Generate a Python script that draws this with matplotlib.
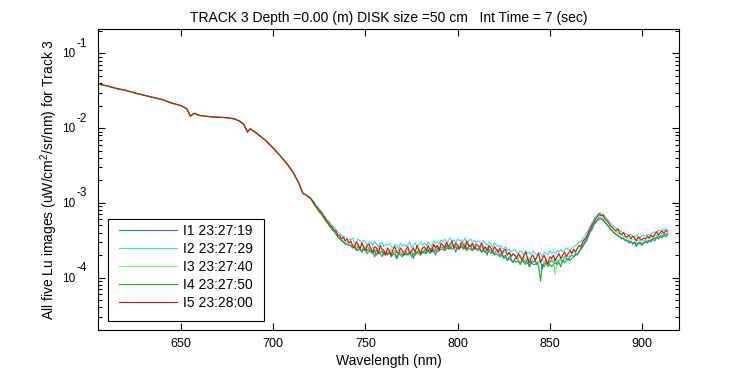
import matplotlib
matplotlib.use("Agg")
import matplotlib.pyplot as plt
from matplotlib.ticker import LogLocator, NullLocator, FixedLocator, NullFormatter
from matplotlib.transforms import blended_transform_factory, ScaledTranslation
from matplotlib.patches import Rectangle

plt.rcParams['font.family'] = ['Liberation Sans', 'DejaVu Sans']
plt.rcParams['mathtext.fontset'] = 'custom'
plt.rcParams['mathtext.rm'] = 'Liberation Sans'
plt.rcParams['mathtext.it'] = 'Liberation Sans:italic'
plt.rcParams['mathtext.bf'] = 'Liberation Sans:bold'

# ---- data (values in units of 1e-5 uW/cm^2/sr/nm) ----
SCALE = 1e-5
wl_smooth = [605, 610, 615, 620, 625, 630, 635, 640, 645, 650, 653, 655, 657, 660,
             665, 670, 675, 679, 682, 684, 686, 687.5, 690, 693, 696, 700, 704, 708,
             711, 714, 716, 718, 720]
lu_smooth = [3890, 3670, 3390, 3200, 2950, 2750, 2570, 2400, 2160, 2000, 1820, 1450, 1580, 1480,
             1430, 1400, 1380, 1330, 1230, 1120, 890, 980, 890, 780, 680, 540, 420, 320,
             250, 180, 135, 126, 117]

wl_noisy = list(range(722, 915))

lu_I1 = [99, 91, 84, 77, 73, 66, 62, 56, 52, 48,
         45, 42, 39, 36, 34, 32, 30, 29, 28, 27,
         27, 25, 26, 23, 27, 24, 22, 26, 24, 23,
         25, 22, 23, 19, 24, 22, 21, 23, 20, 22,
         21, 22, 19, 21, 23, 18, 21, 22, 20, 21,
         22, 20, 21, 23, 18, 22, 21, 24, 21, 22,
         23, 21, 24, 22, 25, 23, 20, 25, 24, 26,
         25, 23, 27, 25, 24, 28, 26, 22, 27, 25,
         27, 25, 28, 24, 26, 27, 23, 26, 25, 24,
         25, 22, 24, 23, 20, 25, 23, 22, 21, 23,
         22, 20, 21, 19, 20, 17, 19, 18, 16, 18,
         18, 17, 15, 18, 17, 16, 18, 14, 17, 16,
         17, 15, 16, 17, 13, 16, 17, 15, 16, 17,
         16, 18, 15, 17, 18, 16, 19, 18, 17, 19,
         20, 19, 21, 20, 23, 24, 26, 29, 31, 36,
         41, 44, 52, 54, 59, 60, 62, 58, 55, 51,
         48, 44, 42, 39, 38, 36, 35, 33, 34, 31,
         32, 29, 31, 28, 30, 26, 29, 30, 27, 29,
         31, 29, 32, 30, 33, 31, 35, 33, 36, 34,
         37, 35, 38]
lu_I2 = [104, 95, 88, 83, 76, 71, 66, 60, 57, 53,
         50, 47, 44, 41, 39, 37, 35, 35, 33, 33,
         32, 34, 30, 29, 33, 31, 28, 32, 30, 27,
         30, 29, 27, 31, 28, 26, 29, 30, 26, 28,
         27, 29, 26, 25, 28, 27, 24, 29, 26, 28,
         26, 28, 30, 25, 27, 29, 26, 28, 30, 27,
         29, 27, 30, 28, 26, 31, 29, 30, 28, 32,
         30, 33, 29, 31, 34, 30, 32, 29, 33, 31,
         32, 30, 34, 29, 31, 33, 30, 32, 29, 31,
         30, 28, 31, 29, 27, 30, 28, 26, 29, 27,
         26, 27, 25, 24, 26, 23, 24, 22, 23, 24,
         22, 21, 23, 22, 20, 23, 21, 22, 20, 23,
         21, 20, 22, 21, 19, 22, 21, 20, 23, 21,
         22, 21, 23, 22, 24, 22, 23, 25, 24, 23,
         25, 26, 27, 28, 30, 31, 34, 36, 40, 44,
         49, 55, 61, 66, 70, 74, 72, 70, 66, 62,
         57, 54, 50, 48, 46, 44, 43, 41, 40, 39,
         38, 37, 38, 36, 35, 37, 36, 34, 36, 37,
         36, 38, 37, 39, 40, 41, 40, 43, 42, 44,
         43, 45, 44]
lu_I3 = [98, 90, 83, 78, 72, 66, 62, 57, 53, 49,
         46, 43, 40, 37, 35, 33, 32, 31, 30, 29,
         29, 27, 28, 26, 27, 25, 27, 26, 24, 26,
         25, 24, 26, 23, 24, 25, 22, 24, 23, 22,
         23, 22, 24, 21, 23, 22, 24, 21, 22, 23,
         22, 24, 23, 21, 24, 23, 22, 24, 23, 25,
         24, 23, 25, 24, 26, 24, 25, 27, 25, 26,
         27, 26, 28, 27, 26, 28, 27, 29, 26, 28,
         28, 26, 29, 27, 28, 26, 27, 28, 26, 27,
         26, 25, 27, 24, 25, 26, 23, 25, 24, 23,
         24, 22, 23, 21, 22, 20, 21, 19, 20, 20,
         19, 18, 20, 18, 19, 17, 19, 18, 17, 18,
         18, 17, 16, 18, 17, 16, 18, 15, 17, 18,
         17, 11, 17, 18, 17, 19, 18, 20, 19, 20,
         21, 22, 22, 24, 25, 27, 29, 32, 35, 40,
         44, 50, 56, 62, 65, 70, 67, 65, 60, 57,
         52, 49, 46, 44, 41, 40, 38, 37, 36, 35,
         34, 33, 33, 32, 33, 31, 32, 31, 32, 31,
         32, 34, 33, 35, 35, 37, 36, 38, 38, 39,
         39, 38, 40]
lu_I4 = [97, 88, 82, 75, 71, 65, 60, 55, 51, 47,
         44, 41, 38, 35, 33, 31, 30, 28, 28, 27,
         27, 25, 26, 24, 23, 25, 22, 24, 23, 21,
         23, 22, 21, 23, 20, 22, 21, 19, 22, 21,
         20, 22, 19, 21, 20, 18, 21, 20, 19, 21,
         20, 21, 22, 19, 21, 20, 22, 21, 20, 22,
         21, 22, 23, 21, 23, 22, 24, 22, 23, 24,
         24, 23, 25, 24, 26, 24, 25, 26, 24, 25,
         26, 24, 25, 23, 25, 24, 23, 25, 24, 23,
         24, 22, 23, 22, 21, 23, 21, 22, 20, 21,
         20, 19, 20, 18, 19, 17, 18, 17, 16, 17,
         16, 17, 15, 17, 16, 15, 16, 14, 16, 15,
         15, 16, 14, 9, 15, 14, 16, 14, 15, 14,
         15, 16, 15, 16, 14, 17, 16, 17, 18, 17,
         18, 19, 20, 21, 22, 25, 27, 30, 33, 38,
         42, 47, 52, 57, 60, 64, 62, 60, 55, 52,
         48, 45, 42, 40, 38, 37, 35, 34, 33, 32,
         31, 31, 30, 29, 30, 28, 29, 28, 29, 29,
         30, 31, 31, 32, 33, 34, 34, 36, 35, 37,
         37, 38, 38]
lu_I5 = [101, 90, 87, 78, 76, 67, 64, 57, 55, 49,
         48, 43, 42, 37, 37, 33, 35, 31, 33, 29,
         31, 27, 25, 30, 28, 24, 29, 26, 23, 27,
         28, 24, 22, 26, 25, 21, 27, 24, 23, 20,
         25, 23, 20, 24, 26, 22, 21, 25, 23, 20,
         24, 26, 21, 23, 25, 22, 27, 23, 21, 25,
         26, 23, 27, 24, 22, 28, 25, 27, 23, 29,
         27, 25, 30, 26, 28, 31, 25, 29, 27, 24,
         30, 28, 25, 31, 27, 26, 29, 24, 28, 27,
         25, 29, 24, 26, 23, 27, 25, 22, 26, 24,
         22, 25, 21, 23, 24, 20, 22, 19, 21, 20,
         18, 21, 19, 17, 20, 22, 18, 16, 19, 20,
         17, 19, 21, 16, 18, 20, 17, 15, 19, 18,
         20, 17, 19, 21, 18, 20, 22, 19, 21, 23,
         21, 24, 22, 25, 27, 26, 31, 33, 35, 41,
         45, 51, 56, 62, 66, 71, 67, 69, 61, 58,
         54, 49, 47, 44, 42, 45, 39, 38, 40, 36,
         35, 37, 33, 36, 34, 31, 35, 33, 32, 34,
         33, 36, 34, 37, 35, 38, 41, 37, 40, 42,
         39, 43, 41]

labels = ["I1 23:27:19", "I2 23:27:29", "I3 23:27:40", "I4 23:27:50", "I5 23:28:00"]
series = [lu_I1, lu_I2, lu_I3, lu_I4, lu_I5]
colors = ["#1E7BE6", "#22E4F2", "#66FF66", "#10B41A", "#FF0000"]

xticks = [650, 700, 750, 800, 850, 900]
ydecades = [-4, -3, -2, -1]

# ---- figure ----
fig = plt.figure(figsize=(7.5, 3.75), dpi=100)
ax = fig.add_axes([0.131, 0.1187, 0.774, 0.805])

wl_all = wl_smooth + wl_noisy
for vals, c, lab in zip(series, colors, labels):
    y = [v * SCALE for v in lu_smooth + vals]
    ax.plot(wl_all, y, color=c, lw=0.8, label=lab)

ax.set_yscale('log')
ax.set_xlim(605, 920)
ax.set_ylim(10 ** -4.707, 10 ** -0.668)
ax.xaxis.set_major_locator(FixedLocator(xticks))
ax.xaxis.set_minor_locator(NullLocator())
ax.yaxis.set_major_locator(FixedLocator([10.0 ** d for d in ydecades]))
ax.yaxis.set_minor_locator(LogLocator(base=10, subs=range(2, 10), numticks=20))
ax.yaxis.set_major_formatter(NullFormatter())
ax.yaxis.set_minor_formatter(NullFormatter())
ax.tick_params(which='both', direction='in', top=True, right=True, width=0.8, color='black')
ax.tick_params(axis='x', labelsize=9, pad=5.5)
ax.tick_params(which='major', length=5)
ax.tick_params(which='minor', length=3)
for s in ax.spines.values():
    s.set_linewidth(0.8)

# MATLAB-style y tick labels: "10" with raised exponent
trans = blended_transform_factory(ax.transAxes, ax.transData)
for d in ydecades:
    ax.text(0, 10.0 ** d, "10", fontsize=8.5, ha='right', va='baseline',
            transform=trans + ScaledTranslation(-0.233, -0.04, fig.dpi_scale_trans))
    ax.text(0, 10.0 ** d, "%d" % d, fontsize=8.5, ha='right', va='baseline',
            transform=trans + ScaledTranslation(-0.11, 0.066, fig.dpi_scale_trans))

ax.set_xlabel("Wavelength (nm)", fontsize=10, labelpad=2.7)
ax.set_ylabel("All five Lu images (uW/cm$^2$/sr/nm) for Track 3", fontsize=10)
ax.yaxis.set_label_coords(-0.0665, 0.5)
ax.set_title("TRACK 3 Depth =0.00 (m) DISK size =50 cm   Int Time = 7 (sec)",
             fontsize=10, pad=5)

# legend with MATLAB-like box
frame = Rectangle((0.01723, 0.03146), 0.26775, 0.33674, transform=ax.transAxes,
                  facecolor='white', edgecolor='black', lw=0.8, zorder=4.5)
ax.add_patch(frame)
leg = ax.legend(loc='upper left', bbox_to_anchor=(0.0357, 0.3527), borderaxespad=0,
                borderpad=0, fontsize=10, handlelength=4.15, handletextpad=0.45,
                labelspacing=0.28, frameon=False)
leg.set_zorder(5)

fig.savefig("out.png", dpi=100)
